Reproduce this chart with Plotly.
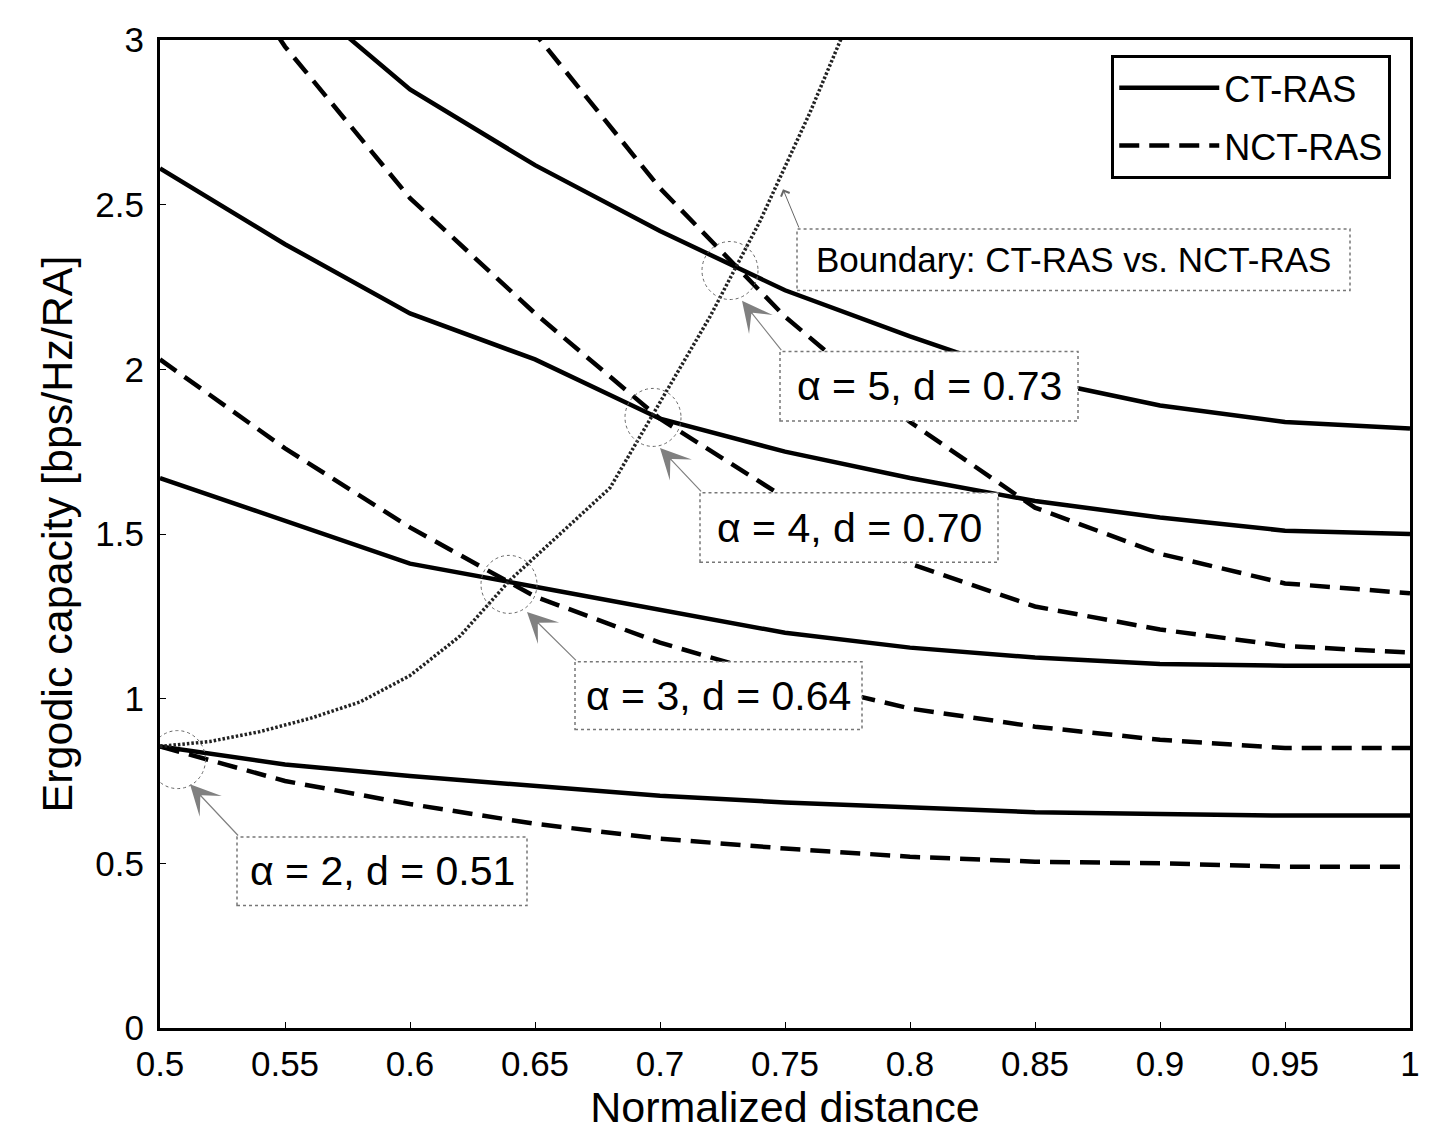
import plotly.graph_objects as go

# ---------------- data ----------------
dist = [0.50, 0.55, 0.60, 0.65, 0.70, 0.75, 0.80, 0.85, 0.90, 0.95, 1.00]

ct_a2 = [0.855, 0.80, 0.765, 0.735, 0.705, 0.685, 0.67, 0.655, 0.65, 0.645, 0.645]
ct_a3 = [1.67, 1.54, 1.41, 1.34, 1.27, 1.20, 1.155, 1.125, 1.105, 1.10, 1.10]
ct_a4 = [2.61, 2.38, 2.17, 2.03, 1.85, 1.75, 1.67, 1.60, 1.55, 1.51, 1.50]
ct_a5 = [3.52, 3.17, 2.85, 2.62, 2.42, 2.24, 2.10, 1.97, 1.89, 1.84, 1.82]

nct_a2 = [0.855, 0.75, 0.68, 0.62, 0.575, 0.545, 0.52, 0.505, 0.50, 0.49, 0.49]
nct_a3 = [2.03, 1.76, 1.52, 1.31, 1.17, 1.06, 0.97, 0.915, 0.875, 0.85, 0.85]
nct_a4 = [3.55, 2.98, 2.52, 2.17, 1.85, 1.61, 1.41, 1.28, 1.21, 1.16, 1.14]
nct_a5 = [None, None, 3.57, 3.02, 2.55, 2.16, 1.84, 1.58, 1.44, 1.35, 1.32]

bound_d = [0.50, 0.52, 0.54, 0.56, 0.58, 0.60, 0.62, 0.64, 0.66, 0.68, 0.70, 0.72, 0.74, 0.76, 0.775]
bound_c = [0.855, 0.87, 0.90, 0.94, 0.99, 1.07, 1.19, 1.36, 1.50, 1.64, 1.90, 2.16, 2.45, 2.78, 3.05]

# crossing points (circles) and their labels
cross_d = [0.507, 0.6396, 0.6972, 0.728]
cross_c = [0.815, 1.347, 1.854, 2.30]
cross_text = ["α = 2, d = 0.51", "α = 3, d = 0.64", "α = 4, d = 0.70", "α = 5, d = 0.73"]
# label boxes [x0, x1, y0, y1] in data units
box_x0 = [0.5308, 0.666, 0.716, 0.748]
box_x1 = [0.6468, 0.7808, 0.8352, 0.8672]
box_y0 = [0.372, 0.906, 1.414, 1.843]
box_y1 = [0.580, 1.112, 1.625, 2.054]
# arrow heads
head_d = [0.512, 0.6468, 0.700, 0.7328]
head_c = [0.740, 1.263, 1.761, 2.208]

bound_text = "Boundary: CT-RAS vs. NCT-RAS"
bound_box = [0.7548, 0.976, 2.239, 2.426]
bound_head = [0.7492, 2.547]

FONT = "Liberation Sans, Arial, sans-serif"
LW = 4.5

fig = go.Figure()

ct_all = [ct_a2, ct_a3, ct_a4, ct_a5]
nct_all = [nct_a2, nct_a3, nct_a4, nct_a5]
for i, ys in enumerate(ct_all):
    fig.add_trace(go.Scatter(x=dist, y=ys, mode="lines", name="CT-RAS",
                             legendgroup="ct", showlegend=(i == 0),
                             line=dict(color="black", width=LW)))
for i, ys in enumerate(nct_all):
    fig.add_trace(go.Scatter(x=dist, y=ys, mode="lines", name="NCT-RAS",
                             legendgroup="nct", showlegend=(i == 0),
                             line=dict(color="black", width=LW, dash="20px,10px")))

fig.add_trace(go.Scatter(x=bound_d, y=bound_c, mode="lines", name="Boundary",
                         showlegend=False,
                         line=dict(color="#222222", width=3.5, dash="2.5px,2px")))

shapes = []
annotations = []
for i in range(4):
    # dotted circle around crossing
    shapes.append(dict(type="circle", xref="x", yref="y",
                       xsizemode="pixel", ysizemode="pixel",
                       xanchor=cross_d[i], yanchor=cross_c[i],
                       x0=-28, x1=28, y0=-29, y1=29,
                       line=dict(color="#666666", width=1, dash="dot"),
                       layer="above"))
    # label box
    shapes.append(dict(type="rect", xref="x", yref="y",
                       x0=box_x0[i], x1=box_x1[i], y0=box_y0[i], y1=box_y1[i],
                       fillcolor="white",
                       line=dict(color="#777777", width=1.5, dash="dot"),
                       layer="above"))
    annotations.append(dict(x=(box_x0[i] + box_x1[i]) / 2, y=(box_y0[i] + box_y1[i]) / 2,
                            xref="x", yref="y", text=cross_text[i], showarrow=False,
                            font=dict(family=FONT, size=41, color="black")))
    annotations.append(dict(x=head_d[i], y=head_c[i], xref="x", yref="y",
                            ax=box_x0[i] + 0.001, ay=box_y1[i], axref="x", ayref="y",
                            text="", showarrow=True, arrowhead=3, arrowsize=4.2,
                            arrowwidth=1.2, arrowcolor="#808080"))

shapes.append(dict(type="rect", xref="x", yref="y",
                   x0=bound_box[0], x1=bound_box[1], y0=bound_box[2], y1=bound_box[3],
                   fillcolor="white",
                   line=dict(color="#777777", width=1.5, dash="dot"),
                   layer="above"))
annotations.append(dict(x=(bound_box[0] + bound_box[1]) / 2, y=(bound_box[2] + bound_box[3]) / 2,
                        xref="x", yref="y", text=bound_text, showarrow=False,
                        font=dict(family=FONT, size=35, color="black")))
annotations.append(dict(x=bound_head[0], y=bound_head[1], xref="x", yref="y",
                        ax=bound_box[0] + 0.001, ay=bound_box[3], axref="x", ayref="y",
                        text="", showarrow=True, arrowhead=4, arrowsize=1.8,
                        arrowwidth=1, arrowcolor="#666666"))

fig.update_layout(
    width=1444, height=1131,
    margin=dict(l=152, r=42, t=27, b=111),
    paper_bgcolor="white", plot_bgcolor="white",
    font=dict(family=FONT, color="black"),
    shapes=shapes, annotations=annotations,
    legend=dict(x=0.985, y=0.985, xanchor="right", yanchor="top",
                bgcolor="white", bordercolor="black", borderwidth=3,
                font=dict(family=FONT, size=36), itemwidth=100,
                tracegroupgap=8),
)
fig.update_xaxes(range=[0.5, 1.0], tickvals=[0.5, 0.55, 0.6, 0.65, 0.7, 0.75, 0.8, 0.85, 0.9, 0.95, 1.0],
                 ticktext=["0.5", "0.55", "0.6", "0.65", "0.7", "0.75", "0.8", "0.85", "0.9", "0.95", "1"],
                 showgrid=False, zeroline=False, showline=True, linecolor="black", linewidth=3,
                 mirror=True, ticks="inside", ticklen=6, tickcolor="black",
                 tickfont=dict(family=FONT, size=35), ticklabelstandoff=3,
                 title=dict(text="Normalized distance", font=dict(family=FONT, size=43), standoff=0))
fig.update_yaxes(range=[0, 3], tickvals=[0, 0.5, 1, 1.5, 2, 2.5, 3],
                 ticktext=["0", "0.5", "1", "1.5", "2", "2.5", "3"],
                 showgrid=False, zeroline=False, showline=True, linecolor="black", linewidth=3,
                 mirror=True, ticks="inside", ticklen=6, tickcolor="black",
                 tickfont=dict(family=FONT, size=35), ticklabelstandoff=6,
                 title=dict(text="Ergodic capacity [bps/Hz/RA]", font=dict(family=FONT, size=43), standoff=10))

fig.write_html("out.html")
